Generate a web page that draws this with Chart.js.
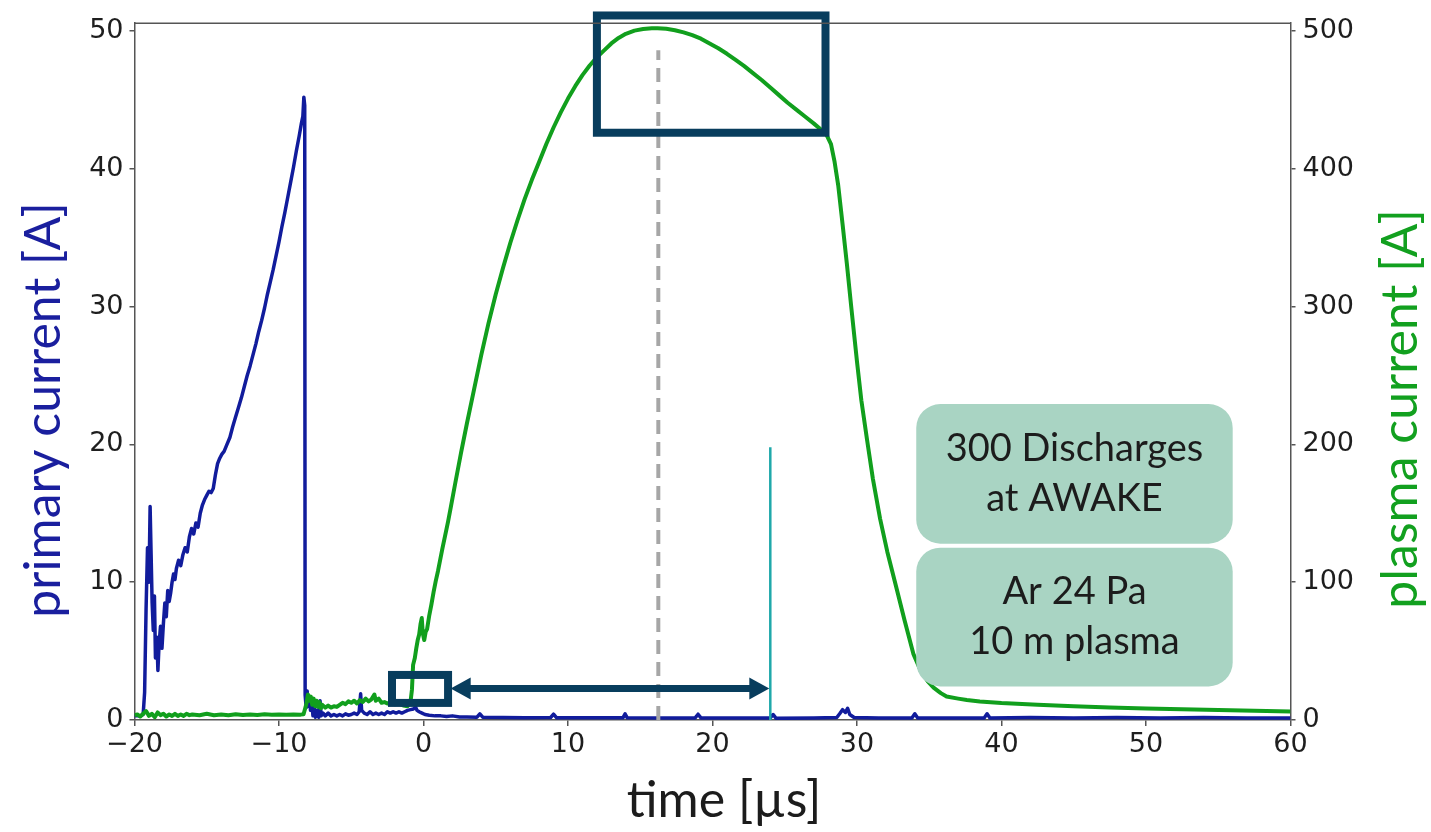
<!DOCTYPE html>
<html>
<head>
<meta charset="utf-8">
<title>Discharge currents</title>
<script src="https://cdn.jsdelivr.net/npm/chart.js@4.4.1/dist/chart.umd.min.js"></script>
<style>
  html, body { margin: 0; padding: 0; background: #fff; }
  canvas { display: block; }
</style>
</head>
<body>
<canvas id="discharge-chart" width="1431" height="832"></canvas>
<script>
// primary current (left axis, A) vs time (µs)
const primaryTime = [
  -20.0, -19.6, -19.4, -19.3, -19.2, -19.1, -19.0, -18.92, -18.85, -18.78,
  -18.7, -18.62, -18.55, -18.45, -18.38, -18.3, -18.2, -18.1, -18.0, -17.9,
  -17.8, -17.7, -17.6, -17.5, -17.4, -17.3, -17.2, -17.1, -16.95, -16.8,
  -16.65, -16.5, -16.35, -16.2, -16.05, -15.9, -15.75, -15.6, -15.45, -15.3,
  -15.15, -15.0, -14.85, -14.7, -14.55, -14.4, -14.25, -14.1, -13.95, -13.8,
  -13.6, -13.4, -13.2, -13.0, -12.8, -12.6, -12.4, -12.2, -12.0, -11.8,
  -11.6, -11.4, -11.2, -11.0, -10.8, -10.6, -10.4, -10.2, -10.0, -9.8,
  -9.6, -9.4, -9.2, -9.0, -8.8, -8.6, -8.45, -8.35, -8.28, -8.22,
  -8.19, -8.12, -8.05, -7.98, -7.9, -7.82, -7.74, -7.65, -7.56, -7.48,
  -7.38, -7.25, -7.16, -7.08, -6.95, -6.8, -6.6, -6.4, -6.2, -6.0,
  -5.8, -5.6, -5.4, -5.2, -5.0, -4.8, -4.6, -4.45, -4.35, -4.28,
  -4.1, -3.9, -3.7, -3.5, -3.3, -3.1, -2.9, -2.7, -2.5, -2.3,
  -2.1, -1.9, -1.7, -1.5, -1.3, -1.1, -0.9, -0.7, -0.55, -0.45,
  -0.3, -0.1, 0.1, 0.4, 0.8, 1.2, 1.6, 2.0, 2.5, 3.0,
  3.7, 3.9, 4.1, 5.5, 7.0, 8.8, 9.0, 9.2, 11.5, 13.8,
  13.95, 14.1, 16.5, 18.8, 19.0, 19.2, 22.0, 24.0, 24.2, 24.4,
  27.0, 28.6, 28.8, 29.0, 29.2, 29.35, 29.5, 29.8, 31.5, 33.8,
  34.0, 34.2, 36.5, 38.8, 39.0, 39.2, 42.0, 45.0, 48.0, 51.0,
  54.0, 57.0, 60.0
];
const primaryAmps = [
  0.3, 0.3, 0.4, 2.0, 8.0, 12.5, 10.0, 15.5, 12.0, 8.5,
  6.5, 9.0, 4.5, 6.0, 3.6, 5.5, 6.8, 5.2, 7.0, 8.5,
  7.5, 9.4, 8.6, 9.2, 10.0, 10.6, 10.2, 11.0, 11.6, 11.2,
  12.0, 12.5, 12.2, 13.3, 13.9, 13.5, 14.3, 14.0, 15.0, 15.6,
  16.0, 16.3, 16.6, 16.5, 16.8, 17.8, 18.6, 19.0, 19.3, 19.5,
  20.0, 20.5, 21.3, 22.0, 22.7, 23.4, 24.2, 25.0, 25.7, 26.5,
  27.3, 28.2, 29.0, 29.9, 30.9, 31.8, 32.7, 33.7, 34.7, 35.8,
  36.8, 37.9, 39.0, 40.1, 41.3, 42.4, 43.3, 43.8, 45.2, 44.6,
  1.8, 0.9, 2.1, 1.0, 1.7, 0.7, 1.3, 0.3, 0.9, 0.2,
  0.7, 0.2, 1.4, 0.3, 0.5, 0.3, 0.5, 0.3, 0.4, 0.3,
  0.4, 0.3, 0.45, 0.35, 0.4, 0.5, 0.4, 0.6, 1.9, 0.7,
  0.5, 0.4, 0.6, 0.4, 0.5, 0.4, 0.5, 0.4, 0.6, 0.5,
  0.6, 0.5, 0.6, 0.5, 0.6, 0.7, 0.75, 0.8, 0.95, 0.7,
  0.6, 0.5, 0.4, 0.35, 0.3, 0.3, 0.25, 0.3, 0.22, 0.22,
  0.2, 0.45, 0.2, 0.18, 0.17, 0.18, 0.42, 0.17, 0.16, 0.16,
  0.45, 0.16, 0.15, 0.15, 0.42, 0.15, 0.15, 0.15, 0.4, 0.12,
  0.15, 0.18, 0.45, 0.75, 0.55, 0.85, 0.4, 0.18, 0.15, 0.15,
  0.45, 0.15, 0.15, 0.15, 0.45, 0.15, 0.18, 0.15, 0.18, 0.15,
  0.18, 0.15, 0.15
];

// plasma current (right axis, A) vs time (µs)
const plasmaTime = [
  -20.0, -19.8, -19.6, -19.4, -19.2, -19.0, -18.8, -18.6, -18.4, -18.2,
  -18.0, -17.8, -17.6, -17.4, -17.2, -17.0, -16.8, -16.6, -16.4, -16.2,
  -16.0, -15.5, -15.0, -14.5, -14.0, -13.5, -13.0, -12.5, -12.0, -11.5,
  -11.0, -10.5, -10.0, -9.5, -9.0, -8.5, -8.3, -8.2, -8.1, -8.0,
  -7.9, -7.8, -7.7, -7.6, -7.5, -7.4, -7.3, -7.2, -7.1, -7.0,
  -6.8, -6.6, -6.4, -6.2, -6.0, -5.8, -5.6, -5.4, -5.2, -5.0,
  -4.8, -4.6, -4.4, -4.2, -4.0, -3.8, -3.6, -3.4, -3.3, -3.1,
  -2.9, -2.7, -2.5, -2.3, -2.0, -1.7, -1.4, -1.1, -0.9, -0.8,
  -0.72, -0.6, -0.5, -0.4, -0.3, -0.2, -0.12, -0.05, 0.05, 0.15,
  0.25, 0.4, 0.55, 0.7, 0.85, 1.0, 1.15, 1.3, 1.5, 1.7,
  1.9, 2.2, 2.6, 3.0, 3.5, 4.0, 4.5, 5.0, 5.5, 6.0,
  6.5, 7.0, 7.5, 8.0, 8.5, 9.0, 9.5, 10.0, 10.5, 11.0,
  11.5, 12.0, 12.5, 13.0, 13.5, 14.0, 14.6, 15.2, 15.8, 16.2,
  16.8, 17.4, 18.0, 18.6, 19.2, 19.8, 20.4, 21.0, 21.6, 22.2,
  22.8, 23.4, 24.0, 24.6, 25.2, 25.8, 26.4, 27.0, 27.5, 27.9,
  28.2, 28.45, 28.7, 29.0, 29.3, 29.6, 30.0, 30.3, 30.7, 31.1,
  31.6, 32.1, 32.7, 33.3, 33.9, 34.4, 34.9, 35.3, 35.8, 36.2,
  37.0, 37.6, 38.5, 40.0, 42.5, 45.0, 47.5, 50.0, 55.0, 60.0
];
const plasmaAmps = [
  3.5, 4.0, 2.5, 4.5, 6.5, 3.0, 4.5, 2.0, 5.5, 3.5,
  4.5, 2.5, 4.0, 3.0, 4.5, 3.0, 4.0, 3.0, 4.5, 3.5,
  4.0, 3.5, 4.5, 3.5, 4.0, 3.5, 4.2, 3.6, 4.0, 3.7,
  4.1, 3.8, 4.0, 3.8, 4.0, 3.9, 4.2, 8.0, 12.0, 18.5,
  14.0, 17.0, 11.0, 15.5, 10.0, 14.0, 9.5, 13.0, 8.5, 11.0,
  9.0, 10.5, 9.0, 10.0, 9.5, 11.0, 12.5, 11.5, 13.5, 12.5,
  14.0, 12.0, 14.5, 13.0, 15.5, 13.5, 15.0, 18.5, 14.0, 15.5,
  12.5, 13.0, 12.0, 12.5, 11.5, 12.0, 10.5, 10.0, 13.0, 22.0,
  40.0, 45.0, 52.0, 58.0, 62.0, 70.0, 74.0, 63.0, 58.0, 64.0,
  66.0, 76.0, 84.0, 93.0, 101.0, 108.0, 116.0, 124.0, 134.0, 144.0,
  155.0, 172.0, 194.0, 215.0, 240.0, 265.0, 288.0, 309.0, 328.0, 346.0,
  362.5, 378.0, 392.0, 405.0, 418.0, 430.0, 441.0, 451.0, 460.0, 468.0,
  475.0, 481.0, 486.0, 491.0, 495.0, 498.0, 500.3, 501.5, 502.0, 502.0,
  501.6, 500.6, 499.0, 497.0, 494.5, 491.0, 487.5, 483.5, 479.0, 474.5,
  469.5, 464.5, 459.0, 453.5, 448.0, 443.0, 438.0, 433.0, 428.5, 424.5,
  418.0, 405.0, 388.0, 360.0, 331.0, 300.0, 260.0, 232.0, 203.0, 175.0,
  146.0, 122.0, 97.0, 72.0, 48.0, 36.0, 28.0, 23.5, 19.5, 17.0,
  15.5, 14.5, 13.5, 12.3, 11.0, 10.0, 9.0, 8.3, 7.2, 6.2
];

// trigger marker and time of the plasma current maximum
const triggerTime = [24.0, 24.0];
const triggerAmps = [0, 19.8];
const peakTime = [16.25, 16.25];
const peakAmps = [0, 48.6];

// axis ranges and tick values
const timeRange = [-20, 60];
const primaryRange = [0, 50.57];
const plasmaRange = [0, 505.7];
const timeTicks = [-20, -10, 0, 10, 20, 30, 40, 50, 60];
const primaryTicks = [0, 10, 20, 30, 40, 50];
const plasmaTicks = [0, 100, 200, 300, 400, 500];

// annotation texts
const noteTop = ["300 Discharges", "at AWAKE"];
const noteBottom = ["Ar 24 Pa", "10 m plasma"];

const toPoints = (xs, ys) => xs.map((x, i) => ({ x: x, y: ys[i] }));
const fixedTicks = values => scale => { scale.ticks = values.map(v => ({ value: v })); };

const BLUE = "#111c9c";
const GREEN = "#119f1d";
const NAVY = "#083d5d";
const AXIS = "#555555";
const TICK_FONT = { family: "'DejaVu Sans'", size: 27 };
const TITLE_FONT = "Lato, 'Open Sans', sans-serif";

const minusSign = v => (v < 0 ? "\u2212" + Math.abs(v) : String(v));

// frame line on top of the plot area
const topSpine = {
  id: "topSpine",
  afterDraw(chart) {
    const { ctx, chartArea } = chart;
    ctx.save();
    ctx.strokeStyle = AXIS;
    ctx.lineWidth = 1.5;
    ctx.beginPath();
    ctx.moveTo(chartArea.left, chartArea.top);
    ctx.lineTo(chartArea.right, chartArea.top);
    ctx.stroke();
    ctx.restore();
  }
};

// boxes, arrow and text notes, placed in axis units
const notes = {
  id: "notes",
  afterDatasetsDraw(chart) {
    const { ctx } = chart;
    const sx = chart.scales.x, sy = chart.scales.y;
    const px = v => sx.getPixelForValue(v);
    const py = v => sy.getPixelForValue(v);

    ctx.save();
    ctx.strokeStyle = NAVY;
    ctx.fillStyle = NAVY;
    ctx.lineWidth = 8;
    ctx.lineJoin = "miter";

    // window around the maximum
    ctx.strokeRect(px(12.0), py(51.13), px(27.82) - px(12.0), py(42.62) - py(51.13));
    // window around breakdown
    ctx.strokeRect(px(-2.18), py(3.27), px(1.70) - px(-2.18), py(1.24) - py(3.27));

    // double arrow between breakdown and trigger
    const ay = py(2.28), x0 = px(1.88), x1 = px(23.93);
    const head = 20, half = 11;
    ctx.lineWidth = 7;
    ctx.beginPath();
    ctx.moveTo(x0 + head - 2, ay);
    ctx.lineTo(x1 - head + 2, ay);
    ctx.stroke();
    ctx.beginPath();
    ctx.moveTo(x0, ay);
    ctx.lineTo(x0 + head, ay - half);
    ctx.lineTo(x0 + head, ay + half);
    ctx.closePath();
    ctx.fill();
    ctx.beginPath();
    ctx.moveTo(x1, ay);
    ctx.lineTo(x1 - head, ay - half);
    ctx.lineTo(x1 - head, ay + half);
    ctx.closePath();
    ctx.fill();

    // text notes
    const drawNote = (lines, t0, t1, a0, a1) => {
      const l = px(t0), r = px(t1), top = py(a0), bot = py(a1);
      ctx.fillStyle = "#a9d4c3";
      ctx.beginPath();
      ctx.roundRect(l, top, r - l, bot - top, 24);
      ctx.fill();
      ctx.fillStyle = "#1c1c1c";
      ctx.font = "38px " + TITLE_FONT;
      ctx.textAlign = "center";
      ctx.textBaseline = "middle";
      const cx = (l + r) / 2, cy = (top + bot) / 2;
      ctx.fillText(lines[0], cx, cy - 25);
      ctx.fillText(lines[1], cx, cy + 25);
    };
    drawNote(noteTop, 34.1, 56.0, 22.93, 12.8);
    drawNote(noteBottom, 34.1, 56.0, 12.5, 2.44);
    ctx.restore();
  }
};

// axis titles
const axisTitles = {
  id: "axisTitles",
  afterDraw(chart) {
    const { ctx } = chart;
    ctx.save();
    ctx.font = "50px " + TITLE_FONT;
    ctx.textAlign = "center";
    ctx.textBaseline = "middle";

    ctx.fillStyle = "#1a1f9e";
    ctx.save();
    ctx.translate(44, 410);
    ctx.rotate(-Math.PI / 2);
    ctx.fillText("primary current [A]", 0, 0);
    ctx.restore();

    ctx.fillStyle = "#12a01f";
    ctx.save();
    ctx.translate(1401, 409);
    ctx.rotate(-Math.PI / 2);
    ctx.fillText("plasma current [A]", 0, 0);
    ctx.restore();

    ctx.fillStyle = "#1c1c1c";
    ctx.fillText("time [\u00b5s]", 724, 801);
    ctx.restore();
  }
};

const lineDefaults = {
  type: "line",
  pointRadius: 0,
  tension: 0,
  fill: false,
  borderJoinStyle: "round"
};

const ctx = document.getElementById("discharge-chart").getContext("2d");
new Chart(ctx, {
  type: "line",
  data: {
    datasets: [
      Object.assign({}, lineDefaults, {
        label: "peak",
        data: toPoints(peakTime, peakAmps),
        yAxisID: "y",
        borderColor: "#a6a6a6",
        borderWidth: 4,
        borderDash: [14, 8],
        order: 0
      }),
      Object.assign({}, lineDefaults, {
        label: "plasma current",
        data: toPoints(plasmaTime, plasmaAmps),
        yAxisID: "y2",
        borderColor: GREEN,
        borderWidth: 4,
        order: 1
      }),
      Object.assign({}, lineDefaults, {
        label: "trigger",
        data: toPoints(triggerTime, triggerAmps),
        yAxisID: "y",
        borderColor: "#1fa8aa",
        borderWidth: 2.5,
        order: 2
      }),
      Object.assign({}, lineDefaults, {
        label: "primary current",
        data: toPoints(primaryTime, primaryAmps),
        yAxisID: "y",
        borderColor: BLUE,
        borderWidth: 3.5,
        order: 3
      })
    ]
  },
  options: {
    responsive: false,
    animation: false,
    layout: { padding: { top: 16, left: 0, right: 0, bottom: 0 } },
    plugins: {
      legend: { display: false },
      tooltip: { enabled: false }
    },
    scales: {
      x: {
        type: "linear",
        position: "bottom",
        min: timeRange[0],
        max: timeRange[1],
        afterFit: s => { s.height = 112; },
        afterBuildTicks: fixedTicks(timeTicks),
        ticks: {
          color: "#1e1e1e",
          font: TICK_FONT,
          padding: 3,
          maxRotation: 0,
          autoSkip: false,
          callback: minusSign
        },
        grid: { drawOnChartArea: false, tickLength: 6, color: AXIS, lineWidth: 1.5 },
        border: { color: AXIS, width: 1.5 }
      },
      y: {
        type: "linear",
        position: "left",
        min: primaryRange[0],
        max: primaryRange[1],
        afterFit: s => { s.width = 134.5; },
        afterBuildTicks: fixedTicks(primaryTicks),
        ticks: {
          color: "#1e1e1e",
          font: TICK_FONT,
          padding: 6,
          autoSkip: false
        },
        grid: { drawOnChartArea: false, tickLength: 5, color: AXIS, lineWidth: 1.5 },
        border: { color: AXIS, width: 1.5 }
      },
      y2: {
        type: "linear",
        position: "right",
        min: plasmaRange[0],
        max: plasmaRange[1],
        afterFit: s => { s.width = 140.5; },
        afterBuildTicks: fixedTicks(plasmaTicks),
        ticks: {
          color: "#1e1e1e",
          font: TICK_FONT,
          padding: 7,
          autoSkip: false
        },
        grid: { drawOnChartArea: false, tickLength: 5, color: AXIS, lineWidth: 1.5 },
        border: { color: AXIS, width: 1.5 }
      }
    }
  },
  plugins: [topSpine, notes, axisTitles]
});
</script>
</body>
</html>
